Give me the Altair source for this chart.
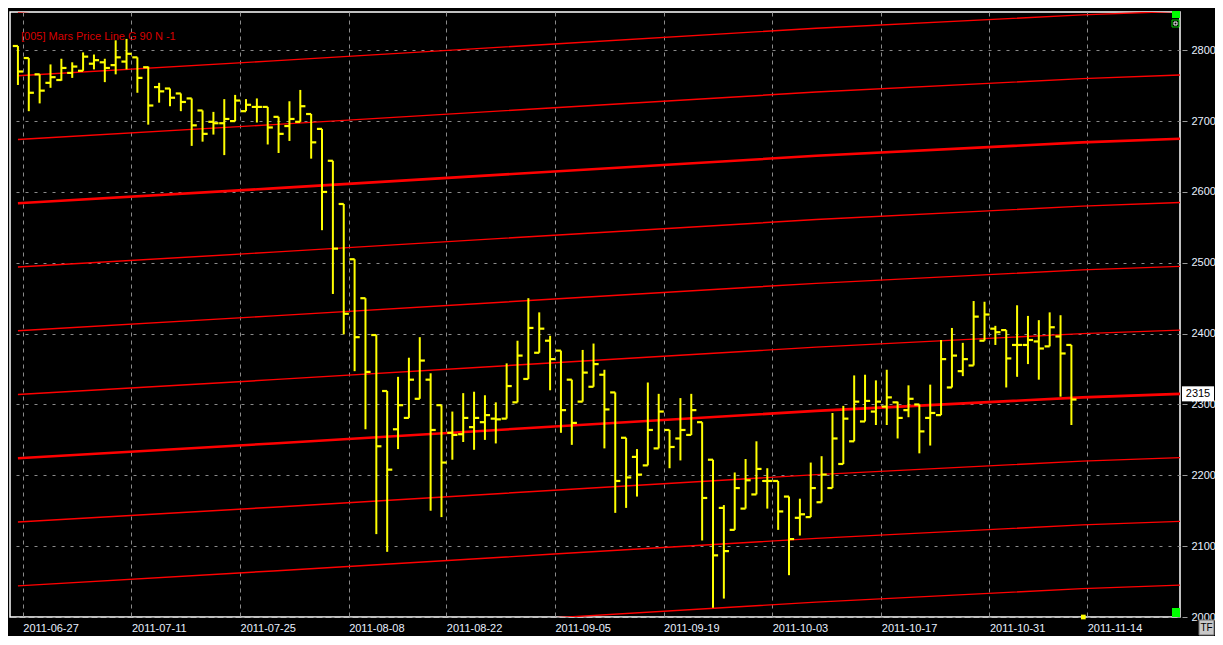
import altair as alt
import pandas as pd

# ---------------- data ----------------
opens = [2806, 2789, 2766, 2754, 2758, 2768, 2771, 2781, 2783, 2779,
         2784, 2790, 2776, 2748, 2746, 2739, 2732, 2715, 2699, 2697,
         2700, 2714, 2720, 2720, 2706, 2693, 2699, 2710, 2689, 2644,
         2583, 2505, 2450, 2398, 2319, 2265, 2281, 2308, 2335, 2299,
         2260, 2258, 2268, 2275, 2280, 2280, 2303, 2336, 2373, 2390,
         2376, 2335, 2304, 2325, 2342, 2317, 2253, 2226, 2214, 2238,
         2264, 2252, 2257, 2275, 2222, 2154, 2123, 2153, 2173, 2192,
         2192, 2170, 2140, 2141, 2162, 2182, 2216, 2248, 2276, 2290,
         2297, 2303, 2292, 2300, 2281, 2285, 2324, 2347, 2355, 2390,
         2407, 2405, 2384, 2384, 2389, 2382, 2396, 2384]
highs = [2806, 2789, 2766, 2780, 2788, 2783, 2797, 2794, 2788, 2814,
         2816, 2790, 2777, 2754, 2746, 2739, 2732, 2715, 2713, 2731,
         2737, 2731, 2732, 2720, 2706, 2728, 2744, 2710, 2689, 2644,
         2583, 2505, 2450, 2398, 2319, 2339, 2366, 2395, 2344, 2299,
         2290, 2316, 2318, 2313, 2303, 2358, 2390, 2450, 2430, 2397,
         2376, 2335, 2377, 2386, 2349, 2317, 2253, 2237, 2331, 2315,
         2264, 2309, 2315, 2275, 2222, 2158, 2204, 2223, 2248, 2210,
         2192, 2170, 2167, 2218, 2227, 2288, 2298, 2341, 2342, 2334,
         2349, 2304, 2327, 2300, 2328, 2391, 2408, 2387, 2446, 2445,
         2411, 2405, 2440, 2425, 2419, 2430, 2426, 2384]
lows = [2751, 2714, 2725, 2747, 2757, 2761, 2771, 2773, 2755, 2766,
        2773, 2740, 2695, 2726, 2721, 2714, 2665, 2671, 2681, 2652,
        2700, 2714, 2698, 2667, 2655, 2672, 2699, 2647, 2546, 2456,
        2399, 2347, 2265, 2117, 2092, 2237, 2281, 2308, 2150, 2141,
        2222, 2247, 2236, 2250, 2245, 2280, 2303, 2336, 2373, 2320,
        2260, 2243, 2304, 2325, 2238, 2147, 2154, 2170, 2214, 2238,
        2210, 2221, 2257, 2108, 2013, 2026, 2123, 2153, 2173, 2153,
        2123, 2059, 2115, 2141, 2162, 2182, 2216, 2248, 2276, 2271,
        2271, 2252, 2282, 2231, 2242, 2285, 2324, 2340, 2355, 2390,
        2384, 2324, 2339, 2357, 2335, 2382, 2311, 2271]
closes = [2770, 2740, 2743, 2762, 2775, 2777, 2791, 2786, 2775, 2790,
          2795, 2761, 2722, 2742, 2733, 2727, 2694, 2682, 2697, 2703,
          2729, 2723, 2720, 2691, 2682, 2703, 2721, 2670, 2600, 2520,
          2428, 2395, 2346, 2241, 2208, 2299, 2335, 2362, 2264, 2218,
          2257, 2281, 2281, 2285, 2279, 2326, 2369, 2408, 2407, 2364,
          2292, 2274, 2345, 2357, 2293, 2192, 2197, 2201, 2264, 2290,
          2240, 2264, 2292, 2168, 2087, 2093, 2182, 2193, 2209, 2192,
          2149, 2110, 2145, 2182, 2201, 2252, 2280, 2304, 2305, 2304,
          2310, 2281, 2308, 2262, 2288, 2364, 2369, 2364, 2424, 2427,
          2402, 2365, 2384, 2391, 2379, 2409, 2372, 2307]

date_tick_pos = [0.45, 10.45, 20.45, 30.45, 39.45, 49.45, 59.45, 69.45, 79.5, 89.45, 98.45]
date_labels = ["2011-06-27", "2011-07-11", "2011-07-25", "2011-08-08", "2011-08-22",
               "2011-09-05", "2011-09-19", "2011-10-03", "2011-10-17", "2011-10-31",
               "2011-11-14"]
price_ticks = [2000, 2100, 2200, 2300, 2400, 2500, 2600, 2700, 2800]

# Mars price line: base line read at a few bar positions, plus its 90-point copies
mars_idx = [0, 23.5, 49, 73.5, 98, 107]
mars_base = [2224, 2245, 2268.5, 2291, 2310, 2315]
mars_offsets = [-270, -180, -90, 0, 90, 180, 270, 360, 450, 540, 630]
thick_offsets = [0, 360]
last_value = 2315
indicator_label = "[005] Mars Price Line G 90 N -1"
marker_index = 98.1

# ---------------- layout ----------------
W, H = 1170, 605
X_DOMAIN = [-0.73, 107.0]
Y_DOMAIN = [2000, 2854]
FONT = "Liberation Sans"
YELLOW = "#ffff00"
RED = "#ff0000"

xs = alt.Scale(domain=X_DOMAIN, nice=False, zero=False)
ys = alt.Scale(domain=Y_DOMAIN, nice=False, zero=False)

bars = pd.DataFrame({"i": list(range(len(opens))), "o": opens, "h": highs,
                     "l": lows, "c": closes})

rows = []
for k in mars_offsets:
    for idx, b in zip(mars_idx, mars_base):
        rows.append({"i": idx, "v": b + k, "k": k, "w": 2.6 if k in thick_offsets else 1.4})
lines_df = pd.DataFrame(rows)

label_expr = ""
for p, lab in zip(date_tick_pos[:-1], date_labels[:-1]):
    label_expr += f"datum.value < {p + 1} ? '{lab}' : "
label_expr += f"'{date_labels[-1]}'"

x_axis = alt.Axis(values=date_tick_pos, labelExpr=label_expr, orient="bottom",
                  grid=True, gridColor="#8a8a8a", gridDash=[4, 4], gridWidth=1,
                  ticks=False, domain=False, labelAlign="left",
                  labelPadding=5, labelColor="#e8f0ff", labelFont=FONT,
                  labelFontSize=11, title=None, labelOverlap=False)
y_axis = alt.Axis(values=price_ticks, orient="right", grid=True, gridColor="#8a8a8a",
                  gridDash=[3, 6], gridWidth=1, ticks=True, tickColor="#9a9a9a",
                  tickSize=7, tickDash=[0, 2, 5, 10], domain=False, labelPadding=4,
                  labelColor="#e8f0ff", labelFont=FONT, labelFontSize=11,
                  title=None, labelOverlap=False, format="d")

lines = alt.Chart(lines_df).mark_line(color=RED, clip=True).encode(
    x=alt.X("i:Q", scale=xs, axis=x_axis),
    y=alt.Y("v:Q", scale=ys, axis=y_axis),
    detail="k:N",
    strokeWidth=alt.StrokeWidth("w:Q", scale=None),
)

base = alt.Chart(bars)
hl = base.mark_rule(color=YELLOW, strokeWidth=2).encode(
    x=alt.X("i:Q", scale=xs), y=alt.Y("l:Q", scale=ys), y2="h:Q")
open_tick = base.transform_calculate(xl="datum.i - 0.47").mark_rule(
    color=YELLOW, strokeWidth=2.2).encode(
    x=alt.X("xl:Q", scale=xs), x2="i:Q", y=alt.Y("o:Q", scale=ys))
close_tick = base.transform_calculate(xr="datum.i + 0.47").mark_rule(
    color=YELLOW, strokeWidth=2.2).encode(
    x=alt.X("i:Q", scale=xs), x2="xr:Q", y=alt.Y("c:Q", scale=ys))

marker = alt.Chart(pd.DataFrame({"i": [marker_index], "v": [Y_DOMAIN[0]]})).mark_square(
    color=YELLOW, size=22, opacity=1, clip=False).encode(
    x=alt.X("i:Q", scale=xs), y=alt.Y("v:Q", scale=ys))

last_df = pd.DataFrame({"v": [last_value], "t": [str(last_value)]})
last_box = alt.Chart(last_df).mark_point(
    shape="M-1,-0.47L1,-0.47L1,0.47L-1,0.47Z", size=1024, filled=True,
    color="#ffffff", opacity=1, clip=False).encode(
    x=alt.value(W + 18), y=alt.Y("v:Q", scale=ys))
last_text = alt.Chart(last_df).mark_text(
    color="#000000", font=FONT, fontSize=11, align="center", baseline="middle",
    clip=False).encode(x=alt.value(W + 18), y=alt.Y("v:Q", scale=ys), text="t:N")

title_df = pd.DataFrame({"t": [indicator_label]})
title_text = alt.Chart(title_df).mark_text(
    color="#d80000", font=FONT, fontSize=11, align="left", baseline="alphabetic").encode(
    x=alt.value(11), y=alt.value(28), text="t:N")

ui_df = pd.DataFrame({"t": ["TF"]})
green_top = alt.Chart(ui_df).mark_rect(color="#00ff00").encode(
    x=alt.value(W - 8), x2=alt.value(W), y=alt.value(-1), y2=alt.value(6))
icon = alt.Chart(ui_df).mark_rect(fill="#000000", stroke="#00cc00", strokeWidth=1).encode(
    x=alt.value(W - 8), x2=alt.value(W - 1), y=alt.value(8), y2=alt.value(15))
icon_in = alt.Chart(ui_df).mark_rect(fill="#000000", stroke="#ffffff", strokeWidth=1).encode(
    x=alt.value(W - 6), x2=alt.value(W - 3), y=alt.value(10), y2=alt.value(13))
green_bot = alt.Chart(ui_df).mark_rect(color="#00ff00").encode(
    x=alt.value(W - 8), x2=alt.value(W), y=alt.value(H - 9), y2=alt.value(H))
tf_box = alt.Chart(ui_df).mark_rect(fill="#c8c8c8", stroke="#707070", strokeWidth=1,
                                    clip=False).encode(
    x=alt.value(W + 19), x2=alt.value(W + 34), y=alt.value(H + 3), y2=alt.value(H + 18))
tf_text = alt.Chart(ui_df).mark_text(color="#000000", font=FONT, fontSize=10,
                                     align="center", baseline="middle", clip=False).encode(
    x=alt.value(W + 26.5), y=alt.value(H + 11), text="t:N")

chart = alt.layer(
    lines, hl, open_tick, close_tick, marker, last_box, last_text, title_text,
    green_top, icon, icon_in, green_bot, tf_box, tf_text
).properties(
    width=W, height=H,
    padding={"left": 2, "top": 4, "right": 35, "bottom": 19},
    autosize=alt.AutoSizeParams(type="none"),
).configure(
    background="#000000",
).configure_view(
    fill="#000000", stroke="#ffffff", strokeWidth=1.5,
)

chart.save("out.html", embed_options={"renderer": "svg", "actions": False})
